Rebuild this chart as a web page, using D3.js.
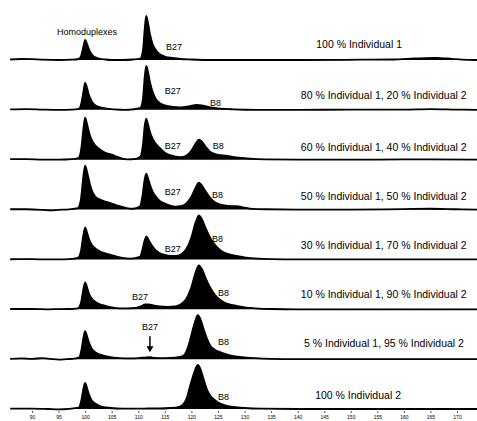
<!DOCTYPE html>
<html>
<head>
<meta charset="utf-8">
<script src="https://cdn.jsdelivr.net/npm/d3@7"></script>
<style>
  body { margin: 0; background: #fff; }
  svg { display: block; }
  text { font-family: "Liberation Sans", Arial, sans-serif; fill: #000; }
</style>
</head>
<body>
<div id="chart"></div>
<script>
// fragment size (x) and signal height
let ind1_100 = [[85.9,0.5],[88,1],[90,0.8],[92,0.3],[95,0],[97.5,0.3],[98.8,1],[99.3,5],[99.7,14],[100,20],[100.3,17],[100.7,11],[101.2,6],[101.8,3],[102.6,1.5],[103.8,0.5],[105,0],[107,0],[109,0.5],[110.4,1.5],[110.9,10],[111.2,30],[111.5,44],[111.8,38],[112.2,26],[112.7,16],[113.3,10],[114,6],[115,3.5],[116.5,2],[118,1],[120,0.5],[124,0],[130,0],[140,0],[152,0.3],[158,0.5],[162,1.5],[166,2.2],[169,1.2],[171,0.3],[173.8,0]];
let ind1_80 = [[85.9,0.5],[89,0.8],[92,0.3],[95,0],[97.5,0.3],[98.8,1],[99.3,7],[99.7,19],[100,27],[100.3,23],[100.7,15],[101.2,9],[101.8,5],[102.6,3],[103.8,1.5],[105.5,0.5],[107.5,0],[109,0.5],[110.4,2],[110.9,12],[111.2,32],[111.5,44],[111.8,39],[112.2,28],[112.7,18],[113.3,11],[114,7],[115,4.5],[116.5,3],[118,2.5],[119.5,3.5],[121,5],[122,4.5],[123.5,2.5],[125.5,1.2],[128,0.5],[132,0],[140,0],[150,0.2],[160,0.3],[165,0.8],[170,0.3],[173.8,0]];
let ind1_60 = [[85.9,0.5],[89,0.5],[92,0],[95,0],[97.5,0.5],[98.8,2],[99.3,12],[99.7,32],[100,42],[100.3,37],[100.7,28],[101.2,20],[101.8,15],[102.6,11],[103.8,7],[105,5],[106,3],[107,1],[108,0.3],[109.5,0.8],[110.4,3],[110.9,16],[111.2,33],[111.5,41],[111.8,36],[112.2,28],[112.7,21],[113.3,16],[114,12],[115,7],[116,4.5],[117,3],[118,2.5],[119,4],[120,9],[120.8,16],[121.4,20],[122,18],[122.7,13],[123.5,8],[124.5,5.5],[125.5,4.5],[126.5,4],[127.5,3],[129,2],[131,1],[134,0.3],[140,0],[150,0],[160,0.3],[173.8,0]];
let ind1_50 = [[85.9,0.3],[89,0.3],[92,-0.3],[93.5,-0.8],[95,-0.3],[97,0.3],[98.6,1.5],[99.2,10],[99.6,30],[100,44],[100.3,39],[100.7,30],[101.2,20],[101.9,13],[102.8,10],[103.8,8],[104.8,6.5],[105.8,4.5],[106.8,3],[107.8,1.5],[109,0.8],[110.3,3],[110.8,14],[111.2,30],[111.5,36],[111.8,32],[112.2,25],[112.7,18],[113.3,13],[114,9],[115,6],[116,4],[117,3],[118,3.5],[119,6],[120,13],[120.8,22],[121.4,27],[122,24],[122.7,18],[123.5,12],[124.5,7],[125.5,5],[126.5,4],[127.5,3.5],[128.5,3.5],[129.5,2.5],[131,1],[134,0.3],[140,0],[150,0],[160,0.5],[165,0.8],[170,0.3],[173.8,0]];
let ind1_30 = [[85.9,0.2],[90,0.3],[93,0],[95,0],[97,0.3],[98.6,1.5],[99.2,8],[99.6,22],[100,32],[100.3,28],[100.7,21],[101.2,15],[101.9,11],[102.8,8],[103.8,6],[104.8,4.5],[105.8,3],[107,1.5],[108.5,0.8],[110.3,2.5],[110.8,10],[111.2,19],[111.5,23],[111.8,21],[112.2,17],[112.7,13],[113.3,9],[114,6.5],[115,4.5],[116,3.5],[117,3.5],[118,5],[119,10],[120,22],[120.8,37],[121.4,44],[122,40],[122.7,31],[123.5,22],[124.5,14],[125.5,9],[126.5,6],[127.5,4.5],[128.5,3.5],[130,2],[132,1],[135,0.3],[140,0],[150,0],[173.8,0]];
let ind1_10 = [[85.9,0.3],[90,0.3],[93,0],[95,0.2],[97,0.3],[98.6,1],[99.2,6],[99.6,18],[100,27],[100.3,23],[100.7,16],[101.2,11],[101.9,7.5],[102.8,5],[103.8,3.5],[105,2],[106.5,1],[108,1],[109.5,1.5],[110.5,3],[111.3,5],[112,5],[112.8,4],[114,3],[115.5,2.5],[117,3],[118,5],[119,10],[120,22],[120.8,37],[121.4,44],[122,40],[122.7,31],[123.5,22],[124.5,14],[125.5,9],[126.5,6],[127.5,4.5],[128.5,3.5],[130,2],[132,1],[135,0.3],[140,0],[150,0],[173.8,0]];
let ind1_5 = [[85.9,0.3],[88,0.8],[90,0.3],[92,1],[93.5,0.3],[95,-0.5],[96.5,0],[98,0.5],[98.9,2],[99.3,9],[99.7,22],[100,28],[100.3,24],[100.7,17],[101.2,11],[101.9,7],[102.8,4.5],[103.8,3],[105,1.8],[106.5,1],[108.5,0.8],[110,1],[111.5,1.8],[112.3,2],[113,1.3],[115,1],[117,1.5],[118.4,3],[119,7],[119.7,18],[120.5,34],[121.2,44],[121.7,40],[122.3,30],[122.9,21],[123.5,14],[124.4,9.5],[125.4,7],[126.5,5],[128,3],[129.5,2],[132,1],[135,0.3],[140,0],[150,0],[173.8,0]];
let ind2_100 = [[85.9,0.3],[90,0.3],[93,0],[95,-0.3],[97,0.2],[98.8,1.5],[99.3,9],[99.7,21],[100,26],[100.3,22],[100.7,15],[101.2,9],[101.9,5.5],[102.8,3],[104,1.5],[106,0.5],[108,0.3],[110,0.3],[112,0.5],[114,0.5],[116,1],[117.5,2],[118.5,5],[119.2,12],[119.7,22],[120.5,36],[121.2,44],[121.7,40],[122.3,30],[122.9,20],[123.6,13],[124.4,9],[125.4,5.5],[126.5,3.5],[128,2],[130,1],[133,0.3],[140,0],[150,0],[165,0],[173.8,0]];

let traces = [ind1_100, ind1_80, ind1_60, ind1_50, ind1_30, ind1_10, ind1_5, ind2_100];

let mixLabels = [
    "100 % Individual 1",
    "80 % Individual 1, 20 % Individual 2",
    "60 % Individual 1, 40 % Individual 2",
    "50 % Individual 1, 50 % Individual 2",
    "30 % Individual 1, 70 % Individual 2",
    "10 % Individual 1, 90 % Individual 2",
    "5 % Individual 1, 95 % Individual 2",
    "100 % Individual 2"
];
// where each mix label starts (size) and sits (height)
let mixLabelSize = [143.5, 140.6, 140.6, 140.6, 140.6, 140.6, 141.2, 143.3];
let mixLabelHeight = [12.5, 10.5, 8.5, 10, 10, 11, 12, 10.5];

// peak annotations: panel, text, size, height
let peakLabels = [
    [0, "Homoduplexes", 94.7, 25.5],
    [0, "B27", 115.2, 10.5],
    [1, "B27", 115.0, 15.5],
    [1, "B8", 123.5, 3.5],
    [2, "B27", 115.0, 10.5],
    [2, "B8", 124.0, 10.5],
    [3, "B27", 115.0, 14.5],
    [3, "B8", 123.9, 11.5],
    [4, "B27", 115.0, 7.5],
    [4, "B8", 123.9, 17.5],
    [5, "B27", 108.8, 9.5],
    [5, "B8", 125.0, 13.5],
    [6, "B27", 110.7, 29.5],
    [6, "B8", 125.0, 14.5],
    [7, "B8", 125.0, 9.5]
];
// arrow pointing at the small B27 peak in the 5 % trace
let arrowPanel = 6, arrowSize = 112.2, arrowFrom = 23, arrowTo = 7;

let tickValues = [90, 95, 100, 105, 110, 115, 120, 125, 130, 135, 140, 145, 150, 155, 160, 165, 170];

let width = 477, height = 421;

let svg = d3.select("#chart").append("svg")
    .attr("width", width)
    .attr("height", height);

let x = d3.scaleLinear()
    .domain([90, 170])
    .range([32, 457]);

// baseline of each trace
let panelY = d3.scalePoint()
    .domain(d3.range(traces.length))
    .range([60, 409]);

function yScale(i) {
    let b = panelY(i);
    return d3.scaleLinear().domain([0, 50]).range([b, b - 50]);
}

traces.forEach(function(tr, i) {
    let y = yScale(i);
    let g = svg.append("g");

    let area = d3.area()
        .curve(d3.curveMonotoneX)
        .x(d => x(d[0]))
        .y0(y(0))
        .y1(d => y(d[1]));

    let line = d3.line()
        .curve(d3.curveMonotoneX)
        .x(d => x(d[0]))
        .y(d => y(d[1]));

    g.append("path")
        .datum(tr)
        .attr("d", area)
        .attr("fill", "#000");

    g.append("path")
        .datum(tr)
        .attr("d", line)
        .attr("fill", "none")
        .attr("stroke", "#000")
        .attr("stroke-width", 1.8);

    g.append("text")
        .attr("x", x(mixLabelSize[i]))
        .attr("y", y(mixLabelHeight[i]))
        .style("font-size", "10.5px")
        .text(mixLabels[i]);
});

peakLabels.forEach(function(p) {
    let y = yScale(p[0]);
    svg.append("text")
        .attr("x", x(p[2]))
        .attr("y", y(p[3]))
        .style("font-size", "9px")
        .text(p[1]);
});

// arrow
let ya = yScale(arrowPanel);
svg.append("line")
    .attr("x1", x(arrowSize))
    .attr("x2", x(arrowSize))
    .attr("y1", ya(arrowFrom))
    .attr("y2", ya(arrowTo) - 5)
    .attr("stroke", "#000")
    .attr("stroke-width", 1.5);
svg.append("path")
    .attr("d", d3.line()([
        [x(arrowSize) - 3.5, ya(arrowTo) - 6],
        [x(arrowSize) + 3.5, ya(arrowTo) - 6],
        [x(arrowSize), ya(arrowTo)]
    ]) + "Z")
    .attr("fill", "#000");

// size axis
let axis = d3.axisBottom(x)
    .tickValues(tickValues)
    .tickSize(2)
    .tickPadding(2);

let ax = svg.append("g")
    .attr("transform", "translate(0,411)")
    .call(axis);
ax.select(".domain").remove();
ax.selectAll(".tick line").attr("stroke", "#555");
ax.selectAll(".tick text")
    .style("font-size", "5px")
    .style("font-family", "Liberation Sans, Arial, sans-serif")
    .attr("fill", "#333");
</script>
</body>
</html>
